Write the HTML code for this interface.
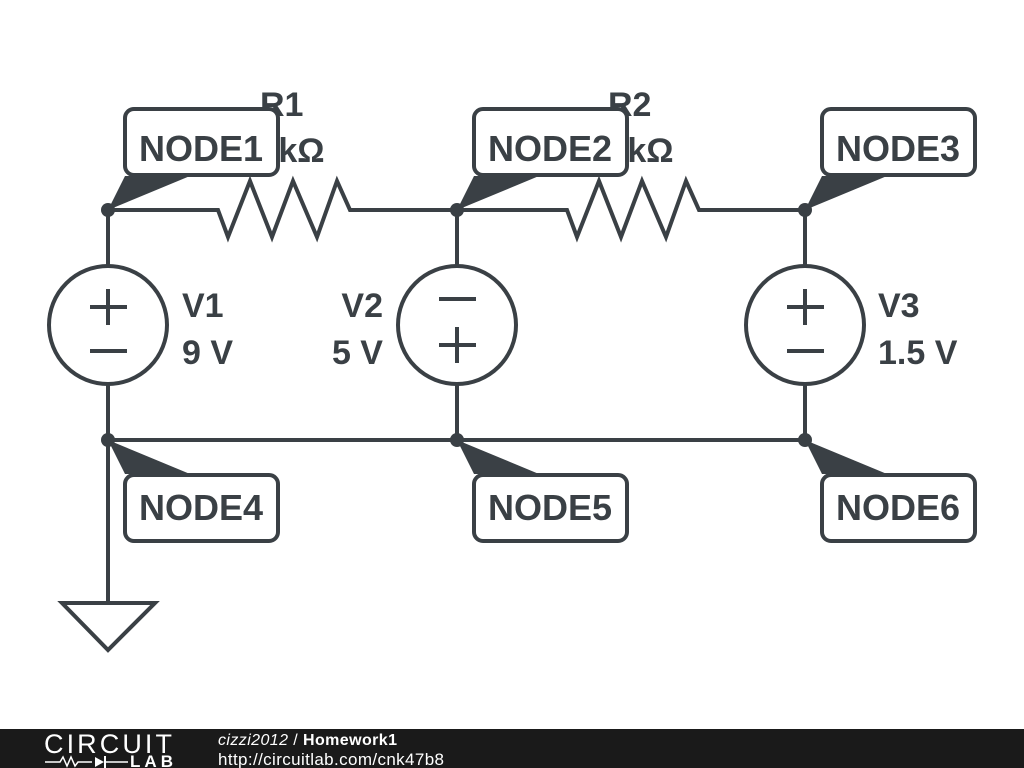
<!DOCTYPE html>
<html><head><style>
html,body{margin:0;padding:0;background:#fff;}
svg{display:block;}
text{font-family:"Liberation Sans","DejaVu Sans",sans-serif;font-weight:bold;fill:#3a4045;}
</style></head><body>
<svg width="1024" height="768" viewBox="0 0 1024 768" xmlns="http://www.w3.org/2000/svg">
<g stroke="#3a4045" stroke-width="4" fill="none" stroke-linejoin="miter">
<polyline points="108,210 218,210 228,237 250,181 272,237 293,181 317,237 337,181 350,210 457,210"/>
<polyline points="457,210 567,210 577,237 599,181 621,237 642,181 666,237 686,181 699,210 805,210"/>
<line x1="108" y1="210" x2="108" y2="266"/><line x1="108" y1="384" x2="108" y2="603"/>
<line x1="457" y1="210" x2="457" y2="266"/><line x1="457" y1="384" x2="457" y2="440"/>
<line x1="805" y1="210" x2="805" y2="266"/><line x1="805" y1="384" x2="805" y2="440"/>
<line x1="108" y1="440" x2="805" y2="440"/>
<polygon points="62,603 155,603 108,650"/>
<circle cx="108" cy="325" r="59"/><circle cx="457" cy="325" r="59"/><circle cx="805" cy="325" r="59"/>
<line x1="90" y1="307" x2="127" y2="307"/><line x1="108" y1="289" x2="108" y2="325"/><line x1="90" y1="351" x2="127" y2="351"/>
<line x1="439" y1="299" x2="476" y2="299"/><line x1="439" y1="345" x2="476" y2="345"/><line x1="457" y1="327" x2="457" y2="363"/>
<line x1="787" y1="307" x2="824" y2="307"/><line x1="805" y1="289" x2="805" y2="325"/><line x1="787" y1="351" x2="824" y2="351"/>
</g>
<g fill="#3a4045">
<circle cx="108" cy="210" r="7"/><circle cx="457" cy="210" r="7"/><circle cx="805" cy="210" r="7"/>
<circle cx="108" cy="440" r="7"/><circle cx="457" cy="440" r="7"/><circle cx="805" cy="440" r="7"/>
<polygon points="108,210 125,176 190,176"/><polygon points="457,210 474,176 539,176"/><polygon points="805,210 822,176 887,176"/>
<polygon points="108,440 125,474 190,474"/><polygon points="457,440 474,474 539,474"/><polygon points="805,440 822,474 887,474"/>
</g>
<g font-size="34">
<text x="260" y="116">R1</text><text x="250" y="162">1 kΩ</text>
<text x="608" y="116">R2</text><text x="599" y="162">1 kΩ</text>
<text x="182" y="317">V1</text><text x="182" y="364">9 V</text>
<text x="383" y="317" text-anchor="end">V2</text><text x="383" y="364" text-anchor="end">5 V</text>
<text x="878" y="317">V3</text><text x="878" y="364">1.5 V</text>
</g>
<g stroke="#3a4045" stroke-width="4" fill="#fff">
<rect x="125" y="109" width="153" height="66" rx="9"/><rect x="474" y="109" width="153" height="66" rx="9"/><rect x="822" y="109" width="153" height="66" rx="9"/>
<rect x="125" y="475" width="153" height="66" rx="9"/><rect x="474" y="475" width="153" height="66" rx="9"/><rect x="822" y="475" width="153" height="66" rx="9"/>
</g>
<g font-size="36" text-anchor="middle">
<text x="201" y="161">NODE1</text><text x="550" y="161">NODE2</text><text x="898" y="161">NODE3</text>
<text x="201" y="520">NODE4</text><text x="550" y="520">NODE5</text><text x="898" y="520">NODE6</text>
</g>
<rect x="0" y="729" width="1024" height="39" fill="#1a1a1a"/>
<text x="44" y="753" font-size="27" textLength="128" style="font-weight:normal;fill:#fff">CIRCUIT</text>
<text x="130" y="767" font-size="17" textLength="43" style="fill:#fff">LAB</text>
<polyline points="45,762 60,762 63,757 67,766 71,757 75,766 78,762 92,762" stroke="#fff" stroke-width="1.5" fill="none"/>
<polygon points="95,757 95,767 104,762" fill="#fff"/><line x1="105" y1="756" x2="105" y2="768" stroke="#fff" stroke-width="2"/>
<line x1="105" y1="762" x2="128" y2="762" stroke="#fff" stroke-width="1.5"/>
<text x="218" y="745" font-size="16" textLength="179" style="fill:#fff;font-weight:normal;font-style:italic">cizzi2012 <tspan font-style="normal">/</tspan> <tspan font-weight="bold" font-style="normal">Homework1</tspan></text>
<text x="218" y="765" font-size="17" textLength="226" style="fill:#fff;font-weight:normal">http://circuitlab.com/cnk47b8</text>
</svg>
</body></html>
